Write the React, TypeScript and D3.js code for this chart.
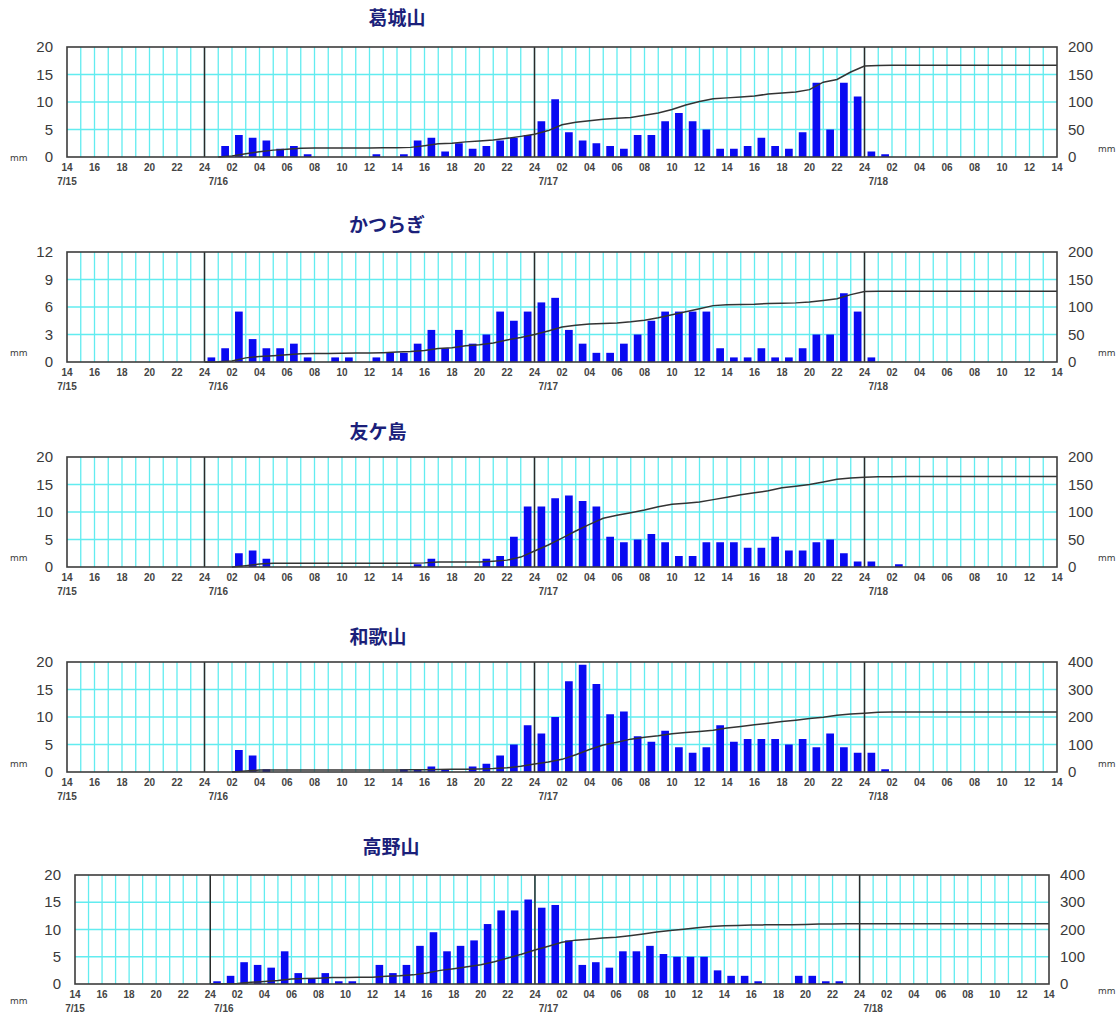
import React from "react";
import * as d3 from "d3";

// hourly rainfall (mm), index 0 = 7/15 14:00-15:00 ... index 71 = 7/18 13:00-14:00
const katsuragisan: number[] = [
  0, 0, 0, 0, 0, 0, 0, 0, 0, 0,
  0, 2, 4, 3.5, 3, 1.5, 2, 0.5, 0, 0, 0, 0, 0.5, 0, 0.5, 3, 3.5, 1, 2.5, 1.5, 2, 3, 3.5, 4,
  6.5, 10.5, 4.5, 3, 2.5, 2, 1.5, 4, 4, 6.5, 8, 6.5, 5, 1.5, 1.5, 2, 3.5, 2, 1.5, 4.5, 13.5, 5, 13.5, 11,
  1, 0.5, 0, 0, 0, 0, 0, 0, 0, 0, 0, 0, 0, 0,
];
const katsuragi: number[] = [
  0, 0, 0, 0, 0, 0, 0, 0, 0, 0,
  0.5, 1.5, 5.5, 2.5, 1.5, 1.5, 2, 0.5, 0, 0.5, 0.5, 0, 0.5, 1, 1, 2, 3.5, 1.5, 3.5, 2, 3, 5.5, 4.5, 5.5,
  6.5, 7, 3.5, 2, 1, 1, 2, 3, 4.5, 5.5, 5.5, 5.5, 5.5, 1.5, 0.5, 0.5, 1.5, 0.5, 0.5, 1.5, 3, 3, 7.5, 5.5,
  0.5, 0, 0, 0, 0, 0, 0, 0, 0, 0, 0, 0, 0, 0,
];
const tomogashima: number[] = [
  0, 0, 0, 0, 0, 0, 0, 0, 0, 0,
  0, 0, 2.5, 3, 1.5, 0, 0, 0, 0, 0, 0, 0, 0, 0, 0, 0.5, 1.5, 0, 0, 0, 1.5, 2, 5.5, 11,
  11, 12.5, 13, 12, 11, 5.5, 4.5, 5, 6, 4.5, 2, 2, 4.5, 4.5, 4.5, 3.5, 3.5, 5.5, 3, 3, 4.5, 5, 2.5, 1,
  1, 0, 0.5, 0, 0, 0, 0, 0, 0, 0, 0, 0, 0, 0,
];
const wakayama: number[] = [
  0, 0, 0, 0, 0, 0, 0, 0, 0, 0,
  0, 0, 4, 3, 0.5, 0, 0, 0, 0, 0, 0, 0, 0, 0, 0.5, 0.5, 1, 0.5, 0, 1, 1.5, 3, 5, 8.5,
  7, 10, 16.5, 19.5, 16, 10.5, 11, 6.5, 5.5, 7.5, 4.5, 3.5, 4.5, 8.5, 5.5, 6, 6, 6, 5, 6, 4.5, 7, 4.5, 3.5,
  3.5, 0.5, 0, 0, 0, 0, 0, 0, 0, 0, 0, 0, 0, 0,
];
const koyasan: number[] = [
  0, 0, 0, 0, 0, 0, 0, 0, 0, 0,
  0.5, 1.5, 4, 3.5, 3, 6, 2, 1, 2, 0.5, 0.5, 0, 3.5, 2, 3.5, 7, 9.5, 6, 7, 8, 11, 13.5, 13.5, 15.5,
  14, 14.5, 8, 3.5, 4, 3, 6, 6, 7, 5.5, 5, 5, 5, 2.5, 1.5, 1.5, 0.5, 0, 0, 1.5, 1.5, 0.5, 0.5, 0,
  0, 0, 0, 0, 0, 0, 0, 0, 0, 0, 0, 0, 0, 0,
];

const stationNames = ["葛城山", "かつらぎ", "友ケ島", "和歌山", "高野山"];
const leftTicks: number[][] = [
  [0, 5, 10, 15, 20],
  [0, 3, 6, 9, 12],
  [0, 5, 10, 15, 20],
  [0, 5, 10, 15, 20],
  [0, 5, 10, 15, 20],
];
const rightTicks: number[][] = [
  [0, 50, 100, 150, 200],
  [0, 50, 100, 150, 200],
  [0, 50, 100, 150, 200],
  [0, 100, 200, 300, 400],
  [0, 100, 200, 300, 400],
];
const startHour = 14; // 7/15 14:00
const dayLabels = [
  { label: "7/15", at: 0 },
  { label: "7/16", at: 11 },
  { label: "7/17", at: 35 },
  { label: "7/18", at: 59 },
];
const dayBoundaries = [10, 34, 58];
const HOURS = 72;

const series = [katsuragisan, katsuragi, tomogashima, wakayama, koyasan];

// layout (positions only)
const layouts = [
  { x0: 67, x1: 1057, top: 47, bottom: 157, titleX: 397, titleY: 25, mmL: 161, mmR: 152 },
  { x0: 67, x1: 1057, top: 252, bottom: 362, titleX: 387, titleY: 232, mmL: 356, mmR: 356 },
  { x0: 67, x1: 1057, top: 457, bottom: 567, titleX: 378, titleY: 439, mmL: 561, mmR: 561 },
  { x0: 67, x1: 1057, top: 662, bottom: 772, titleX: 378, titleY: 644, mmL: 767, mmR: 767 },
  { x0: 75, x1: 1049, top: 875, bottom: 984, titleX: 391, titleY: 854, mmL: 1004, mmR: 994 },
];

const CYAN = "#62ecf0";
const BAR = "#0a0af2";
const AXIS_TEXT = "#3a3a3a";

function Panel({ idx }: { idx: number }) {
  const data = series[idx];
  const L = layouts[idx];
  const lt = leftTicks[idx];
  const rt = rightTicks[idx];
  const x = d3.scaleLinear().domain([0, HOURS]).range([L.x0, L.x1]);
  const yL = d3.scaleLinear().domain([0, lt[lt.length - 1]]).range([L.bottom, L.top]);
  const yR = d3.scaleLinear().domain([0, rt[rt.length - 1]]).range([L.bottom, L.top]);
  const hw = x(1) - x(0);
  const bw = hw * 0.56;

  const first = data.findIndex((v) => v > 0);
  const pts: [number, number][] = [];
  let cum = 0;
  if (first >= 0) {
    pts.push([first, 0]);
    for (let i = first; i < HOURS; i++) {
      cum += data[i];
      pts.push([i + 1, cum]);
    }
  }
  const line = d3
    .line<[number, number]>()
    .x((d) => x(d[0]))
    .y((d) => yR(d[1]));

  const hourTicks = d3.range(0, HOURS + 1, 2);
  const fmtHour = (i: number) => {
    const h = (startHour + i) % 24;
    return h === 0 ? "24" : String(h).padStart(2, "0");
  };

  return (
    <g>
      <text
        x={L.titleX}
        y={L.titleY}
        textAnchor="middle"
        fontFamily="'Noto Sans CJK JP', sans-serif"
        fontSize={19}
        fontWeight={600}
        fill="#1b1f7a"
      >
        {stationNames[idx]}
      </text>
      <rect x={L.x0} y={L.top} width={L.x1 - L.x0} height={L.bottom - L.top} fill="#fff" />
      {d3.range(1, HOURS).map((i) => (
        <line key={"v" + i} x1={x(i)} x2={x(i)} y1={L.top} y2={L.bottom} stroke={CYAN} strokeWidth={1.3} />
      ))}
      {lt.slice(1, -1).map((t) => (
        <line key={"h" + t} x1={L.x0} x2={L.x1} y1={yL(t)} y2={yL(t)} stroke={CYAN} strokeWidth={1.3} />
      ))}
      {dayBoundaries.map((b) => (
        <line key={"d" + b} x1={x(b)} x2={x(b)} y1={L.top} y2={L.bottom} stroke="#2a2a2a" strokeWidth={1.5} />
      ))}
      {data.map((v, i) =>
        v > 0 ? (
          <rect
            key={"b" + i}
            x={x(i + 0.5) - bw / 2}
            y={yL(v)}
            width={bw}
            height={L.bottom - yL(v)}
            fill={BAR}
          />
        ) : null
      )}
      {pts.length > 0 && <path d={line(pts) || ""} fill="none" stroke="#333" strokeWidth={1.5} />}
      <rect
        x={L.x0}
        y={L.top}
        width={L.x1 - L.x0}
        height={L.bottom - L.top}
        fill="none"
        stroke="#3c3c3c"
        strokeWidth={1.6}
      />
      {lt.map((t) => (
        <text
          key={"lt" + t}
          x={L.x0 - 14}
          y={yL(t) + 5}
          textAnchor="end"
          fontFamily="'Liberation Sans', Arial, sans-serif"
          fontSize={15}
          fill={AXIS_TEXT}
        >
          {t}
        </text>
      ))}
      {rt.map((t) => (
        <text
          key={"rt" + t}
          x={L.x1 + 11}
          y={yR(t) + 5}
          textAnchor="start"
          fontFamily="'Liberation Sans', Arial, sans-serif"
          fontSize={15}
          fill={AXIS_TEXT}
        >
          {t}
        </text>
      ))}
      <text x={10} y={L.mmL} fontFamily="'DejaVu Sans', sans-serif" fontSize={9} fill={AXIS_TEXT}>
        mm
      </text>
      <text x={1098} y={L.mmR} fontFamily="'DejaVu Sans', sans-serif" fontSize={9} fill={AXIS_TEXT}>
        mm
      </text>
      {hourTicks.map((i) => (
        <text
          key={"ht" + i}
          x={x(i)}
          y={L.bottom + 14}
          textAnchor="middle"
          fontFamily="'Liberation Sans', Arial, sans-serif"
          fontSize={10}
          fontWeight="bold"
          fill="#444"
        >
          {fmtHour(i)}
        </text>
      ))}
      {dayLabels.map((d) => (
        <text
          key={"dl" + d.label}
          x={x(d.at)}
          y={L.bottom + 28}
          textAnchor="middle"
          fontFamily="'Liberation Sans', Arial, sans-serif"
          fontSize={10}
          fontWeight="bold"
          fill="#444"
        >
          {d.label}
        </text>
      ))}
    </g>
  );
}

export default function App() {
  return (
    <svg
      width={1120}
      height={1014}
      style={{ position: "absolute", left: 0, top: 0, background: "#fff" }}
    >
      <rect x={0} y={0} width={1120} height={1014} fill="#fff" />
      {series.map((_, i) => (
        <Panel key={i} idx={i} />
      ))}
    </svg>
  );
}
